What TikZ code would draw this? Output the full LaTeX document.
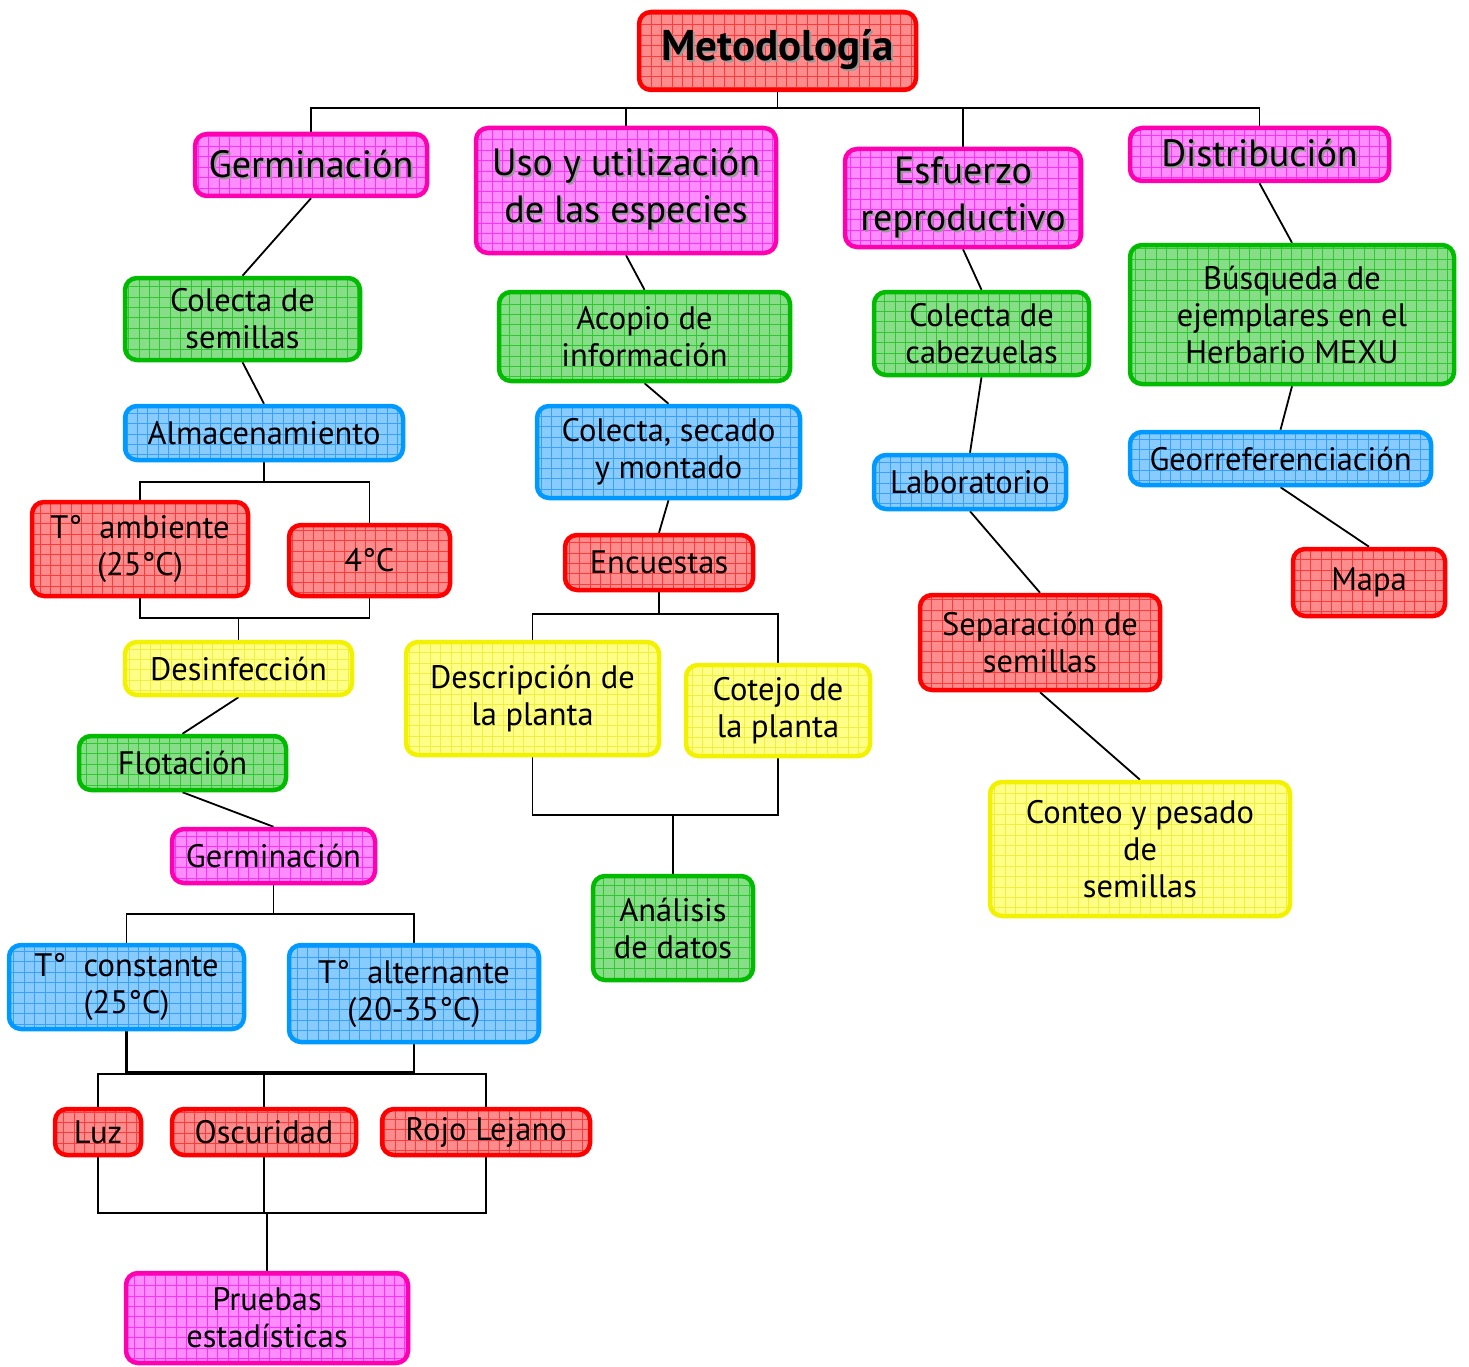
\documentclass[tikz,border=0pt]{standalone}
\usepackage{fontspec}
\setmainfont{PT Sans}
\usetikzlibrary{backgrounds}
\definecolor{rb}{HTML}{FF0000}\definecolor{rf}{HTML}{FF8C8C}\definecolor{rg}{HTML}{FF3A3A}
\definecolor{mb}{HTML}{FF00B0}\definecolor{mf}{HTML}{FF8CFF}\definecolor{mg}{HTML}{FF30FF}
\definecolor{gb}{HTML}{00BB00}\definecolor{gf}{HTML}{88DD88}\definecolor{gg}{HTML}{30C830}
\definecolor{bb}{HTML}{0099FF}\definecolor{bf}{HTML}{88CCFF}\definecolor{bgl}{HTML}{3AA0FF}
\definecolor{yb}{HTML}{F2F200}\definecolor{yf}{HTML}{FFFF88}\definecolor{yg}{HTML}{F0F040}
\definecolor{shadowgray}{HTML}{999999}
\newcommand\shd[1]{\leavevmode\rlap{\hspace{2pt}\raisebox{-2pt}{\textcolor{shadowgray}{#1}}}#1}
\newcommand\fntn{\fontsize{32.5}{37}\selectfont}
\newcommand\fntt{\fontsize{38}{47}\selectfont}
\tikzset{
  box/.style={rounded corners=12pt, line width=4.5pt, align=center, inner sep=0pt, font=\fntn, text=black},
  cbox/.style n args={3}{box, draw=#1, fill=#2,
    path picture={\draw[#3, line width=0.6pt, step=10.4pt] (path picture bounding box.south west) grid (path picture bounding box.north east);}},
  redbox/.style={cbox={rb}{rf}{rg}},
  magbox/.style={cbox={mb}{mf}{mg}},
  grnbox/.style={cbox={gb}{gf}{gg}},
  blubox/.style={cbox={bb}{bf}{bgl}},
  yelbox/.style={cbox={yb}{yf}{yg}},
  top/.style={font=\fntt},
  sz/.style 2 args={minimum width=#1pt, minimum height=#2pt},
  conn/.style={line width=1.8pt, black},
}
\begin{document}
\begin{tikzpicture}[x=1pt,y=-1pt]
\useasboundingbox (0,0) rectangle (1469,1367);
% top level
\node[redbox, sz={277}{78}, font=\fontsize{43}{50}\selectfont\bfseries] (meto) at (777.5,51) {\raisebox{-5pt}{\shd{Metodología}}};
\node[magbox, top, sz={232}{62}] (germ1) at (311,165) {\shd{Germinación}};
\node[magbox, top, sz={300}{125}] (uso) at (626,190.5) {\shd{Uso y utilización}\\\shd{de las especies}};
\node[magbox, top, sz={236}{98}] (esf) at (963,198) {\shd{Esfuerzo}\\\shd{reproductivo}};
\node[magbox, top, sz={259}{53}] (dist) at (1259.5,154.5) {\shd{Distribución}};
% germinacion branch
\node[grnbox, sz={235}{82}] (colsem) at (242.5,319) {Colecta de\\semillas};
\node[blubox, sz={278}{54}] (alm) at (264,433) {Almacenamiento};
\node[redbox, sz={216}{94}] (tamb) at (140,549) {T° \ ambiente\\(25°C)};
\node[redbox, sz={161}{71}] (cuatro) at (369.5,560.5) {4°C};
\node[yelbox, sz={227}{53}] (desinf) at (238.5,668.5) {Desinfección};
\node[grnbox, sz={207}{54}] (flot) at (182.5,763) {Flotación};
\node[magbox, sz={203}{54}] (germ2) at (273.5,856) {Germinación};
\node[blubox, sz={235}{84}] (tcons) at (126.5,987) {T° \ constante\\(25°C)};
\node[blubox, sz={250}{97}] (talt) at (414,993.5) {T° \ alternante\\(20-35°C)};
\node[redbox, sz={86}{46}] (luz) at (98,1132) {Luz};
\node[redbox, sz={184}{46}] (osc) at (264,1132) {Oscuridad};
\node[redbox, sz={208}{46}] (rojo) at (486,1132) {Rojo Lejano};
\node[magbox, sz={282}{90}] (pruebas) at (267,1318) {Pruebas\\estadísticas};
% uso branch
\node[grnbox, sz={291}{89}] (acopio) at (644.5,336.5) {Acopio de\\información};
\node[blubox, sz={263}{92}] (colsec) at (668.5,452) {Colecta, secado\\y montado};
\node[redbox, sz={188}{55}] (enc) at (659,562.5) {Encuestas};
\node[yelbox, sz={253}{113}] (desc) at (532.5,698.5) {Descripción de\\la planta};
\node[yelbox, sz={184}{91}] (cotejo) at (778,710.5) {Cotejo de\\la planta};
\node[grnbox, sz={160}{104}] (anal) at (673,928) {Análisis\\de datos};
% esfuerzo branch
\node[grnbox, sz={215}{83}] (colcab) at (981.5,333.5) {Colecta de\\cabezuelas};
\node[blubox, sz={192}{54}] (lab) at (970,482) {Laboratorio};
\node[redbox, sz={240}{95}] (sep) at (1040,642.5) {Separación de\\semillas};
\node[yelbox, sz={300}{134}] (conteo) at (1140,849) {Conteo y pesado\\de\\semillas};
% distribucion branch
\node[grnbox, sz={324}{139}] (busq) at (1292,314.5) {Búsqueda de\\ejemplares en el\\Herbario MEXU};
\node[blubox, sz={301}{53}] (geo) at (1280.5,458.5) {Georreferenciación};
\node[redbox, sz={152}{67}] (mapa) at (1369,582.5) {Mapa};
% connectors
\begin{scope}[on background layer]
\coordinate (h0) at (777.5,108);
\draw[conn] (meto.south) -- (h0);
\draw[conn] (germ1.north) |- (dist.north |- h0) -- (dist.north);
\draw[conn] (uso.north) -- (uso.north |- h0);
\draw[conn] (esf.north) -- (esf.north |- h0);
% germinacion
\draw[conn] (germ1.south) -- (colsem.north);
\draw[conn] (colsem.south) -- (alm.north);
\coordinate (a1) at (264,482);
\draw[conn] (alm.south) -- (a1);
\draw[conn] (tamb.north) |- (cuatro.north |- a1) -- (cuatro.north);
\coordinate (a2) at (239,618);
\draw[conn] (tamb.south) |- (cuatro.south |- a2) -- (cuatro.south);
\draw[conn] (desinf.north) -- (desinf.north |- a2);
\draw[conn] (desinf.south) -- (flot.north);
\draw[conn] (flot.south) -- (germ2.north);
\coordinate (g2) at (273.5,914);
\draw[conn] (germ2.south) -- (g2);
\draw[conn] (tcons.north) |- (talt.north |- g2) -- (talt.north);
\coordinate (t1) at (264,1072);
\draw[conn, line width=2.6pt] (tcons.south) |- (talt.south |- t1) -- (talt.south);
\coordinate (t2) at (264,1074);
\draw[conn] (luz.north) |- (rojo.north |- t2) -- (rojo.north);
\draw[conn] (osc.north) -- (osc.north |- t2);
\coordinate (b1) at (266,1213);
\draw[conn] (luz.south) |- (rojo.south |- b1) -- (rojo.south);
\draw[conn] (osc.south) -- (osc.south |- b1);
\draw[conn] (pruebas.north) -- (pruebas.north |- b1);
% uso
\draw[conn] (uso.south) -- (acopio.north);
\draw[conn] (acopio.south) -- (colsec.north);
\draw[conn] (colsec.south) -- (enc.north);
\coordinate (e1) at (659,614);
\draw[conn] (enc.south) -- (e1);
\draw[conn] (desc.north) |- (cotejo.north |- e1) -- (cotejo.north);
\coordinate (e2) at (673,815);
\draw[conn] (desc.south) |- (cotejo.south |- e2) -- (cotejo.south);
\draw[conn] (anal.north) -- (anal.north |- e2);
% esfuerzo
\draw[conn] (esf.south) -- (colcab.north);
\draw[conn] (colcab.south) -- (lab.north);
\draw[conn] (lab.south) -- (sep.north);
\draw[conn] (sep.south) -- (conteo.north);
% distribucion
\draw[conn] (dist.south) -- (busq.north);
\draw[conn] (busq.south) -- (geo.north);
\draw[conn] (geo.south) -- (mapa.north);
\end{scope}
\end{tikzpicture}
\end{document}
